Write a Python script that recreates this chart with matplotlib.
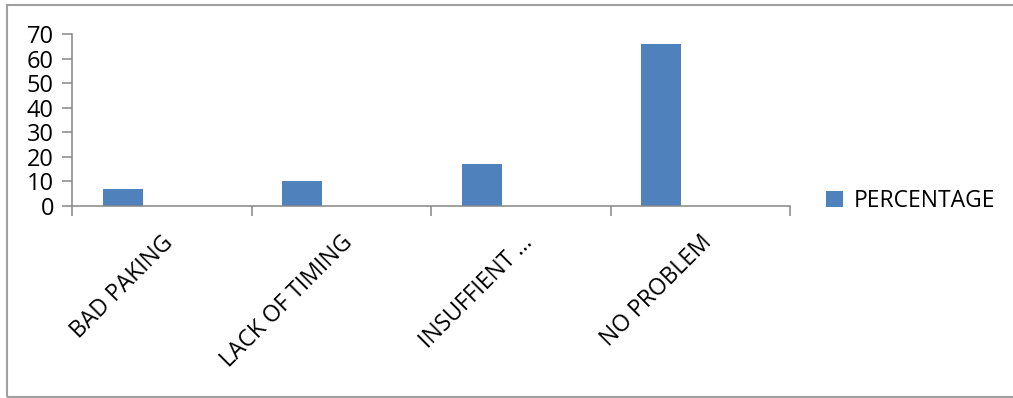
import numpy as np
import matplotlib.pyplot as plt
from matplotlib.patches import Rectangle

categories = ['BAD PAKING', 'LACK OF TIMING', 'INSUFFIENT ...', 'NO PROBLEM']
percentage = [7, 10, 17, 66]
series_name = 'PERCENTAGE'

plt.rcParams['font.family'] = ['Open Sans', 'DejaVu Sans']

fig = plt.figure(figsize=(10.13, 3.98), dpi=100)
ax = fig.add_axes([72 / 1013, 192 / 398, 718 / 1013, 172 / 398])

# outer chart frame
fig.patches.append(Rectangle((7 / 1013, 1 / 398), 1.0, 392 / 398, transform=fig.transFigure,
                             fill=False, edgecolor='#a0a0a0', linewidth=1.5))

x = np.arange(len(categories))
ax.bar(x - 0.218, percentage, width=0.223, color='#4f81bd', label=series_name)

ax.set_xlim(-0.5, len(categories) - 0.5)
ax.set_ylim(0, 70)
ax.set_yticks(np.arange(0, 71, 10))

# ticks on category boundaries, labels at category centres
ax.set_xticks(np.arange(-0.5, len(categories), 1.0))
ax.set_xticklabels([])
ax.set_xticks(x, minor=True)
ax.set_xticklabels(categories, minor=True, rotation=45, ha='right',
                   rotation_mode='anchor', fontsize=16.5)
ax.tick_params(axis='x', which='minor', length=0, pad=18)
ax.tick_params(axis='x', which='major', length=7, width=1.1, color='#868686', direction='out')
ax.tick_params(axis='y', length=7, width=1.1, color='#868686', direction='out',
               labelsize=17, pad=6)

for s in ['top', 'right']:
    ax.spines[s].set_visible(False)
for s in ['left', 'bottom']:
    ax.spines[s].set_color('#868686')
    ax.spines[s].set_linewidth(1.1)

fig.legend(loc='center left', bbox_to_anchor=(826 / 1013, 1 - 201 / 398), frameon=False,
           fontsize=16.5, handlelength=0.72, handleheight=0.72, handletextpad=0.5,
           borderpad=0, borderaxespad=0)

plt.savefig('out.png', dpi=100)
